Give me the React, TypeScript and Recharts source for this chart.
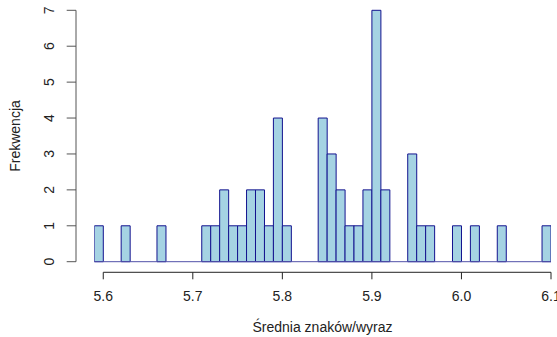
import React from "react";
import { BarChart, Bar, XAxis, YAxis, ReferenceLine } from "recharts";

// histogram bins (left edges, width 0.01) and counts
const binStarts = [
  5.59, 5.6, 5.61, 5.62, 5.63, 5.64, 5.65, 5.66, 5.67, 5.68, 5.69, 5.7, 5.71,
  5.72, 5.73, 5.74, 5.75, 5.76, 5.77, 5.78, 5.79, 5.8, 5.81, 5.82, 5.83, 5.84,
  5.85, 5.86, 5.87, 5.88, 5.89, 5.9, 5.91, 5.92, 5.93, 5.94, 5.95, 5.96, 5.97,
  5.98, 5.99, 6.0, 6.01, 6.02, 6.03, 6.04, 6.05, 6.06, 6.07, 6.08, 6.09,
];
const counts = [
  1, 0, 0, 1, 0, 0, 0, 1, 0, 0, 0, 0, 1,
  1, 2, 1, 1, 2, 2, 1, 4, 1, 0, 0, 0, 4,
  3, 2, 1, 1, 2, 7, 2, 0, 0, 3, 1, 1, 0,
  0, 1, 0, 1, 0, 0, 1, 0, 0, 0, 0, 1,
];
const binWidth = 0.01;
const xTicks = [5.6, 5.7, 5.8, 5.9, 6.0, 6.1];
const yTicks = [0, 1, 2, 3, 4, 5, 6, 7];

const data = binStarts.map((s, i) => ({ mid: s + binWidth / 2, count: counts[i] }));

const FONT = "'Liberation Sans', Arial, sans-serif";
const TXT = "#222";
const BAR_FILL = "#A5D3E3";
const BAR_STROKE = "#13138F";

// R draws the x axis a little below the zero line
const X_AXIS_GAP = -0.295; // in y data units (~10px)

const XTick = (props: any) => {
  const { x, y, payload } = props;
  return (
    <g>
      <line x1={x} x2={x} y1={y + 10.6} y2={y + 17.6} stroke="#222" />
      <text
        x={x}
        y={y + 34.5}
        textAnchor="middle"
        dominantBaseline="central"
        fontSize={14}
        fontFamily={FONT}
        fill={TXT}
      >
        {Number(payload.value).toFixed(1)}
      </text>
    </g>
  );
};

const YTick = (props: any) => {
  const { x, y, payload } = props;
  const cx = x - 17.4;
  return (
    <text
      x={cx}
      y={y}
      transform={`rotate(-90 ${cx} ${y})`}
      textAnchor="middle"
      dominantBaseline="central"
      fontSize={14}
      fontFamily={FONT}
      fill={TXT}
    >
      {payload.value}
    </text>
  );
};

export default function App() {
  return (
    <div style={{ position: "absolute", left: 0, top: 0, background: "#fff" }}>
      <BarChart
        width={557}
        height={337}
        data={data}
        margin={{ top: 10.3, right: 6, bottom: 0, left: 0 }}
        barCategoryGap={0}
        barGap={0}
      >
        <XAxis
          dataKey="mid"
          type="number"
          domain={[5.59, 6.1]}
          allowDataOverflow
          ticks={xTicks}
          interval={0}
          padding={{ left: 18.3, right: 0 }}
          height={75.3}
          axisLine={false}
          tickLine={false}
          tickSize={0}
          tickMargin={0}
          tick={<XTick />}
          label={{
            content: () => (
              <text
                x={322.5}
                y={327}
                textAnchor="middle"
                dominantBaseline="central"
                fontSize={14}
                fontFamily={FONT}
                fill={TXT}
              >
                Średnia znaków/wyraz
              </text>
            ),
          }}
        />
        <YAxis
          domain={[0, 7]}
          ticks={yTicks}
          interval={0}
          width={76}
          tickSize={9.3}
          tickMargin={0}
          axisLine={{ stroke: "#555" }}
          tickLine={{ stroke: "#555" }}
          tick={<YTick />}
          label={{
            content: (p: any) => {
              const vb = p.viewBox;
              const cy = vb.y + vb.height / 2;
              return (
                <text
                  x={15}
                  y={cy}
                  transform={`rotate(-90 15 ${cy})`}
                  textAnchor="middle"
                  dominantBaseline="central"
                  fontSize={14}
                  fontFamily={FONT}
                  fill={TXT}
                >
                  Frekwencja
                </text>
              );
            },
          }}
        />
        <ReferenceLine
          segment={[
            { x: 5.59, y: 0 },
            { x: 6.1, y: 0 },
          ]}
          stroke="#5050A8"
          ifOverflow="visible"
        />
        <ReferenceLine
          segment={[
            { x: xTicks[0], y: X_AXIS_GAP },
            { x: xTicks[xTicks.length - 1], y: X_AXIS_GAP },
          ]}
          stroke="#222"
          ifOverflow="visible"
        />
        <Bar
          dataKey="count"
          fill={BAR_FILL}
          stroke={BAR_STROKE}
          strokeWidth={1}
          isAnimationActive={false}
        />
      </BarChart>
    </div>
  );
}
